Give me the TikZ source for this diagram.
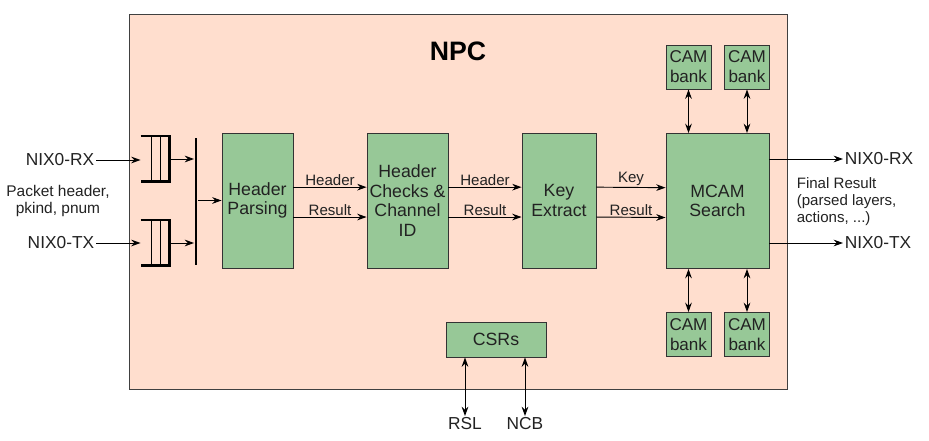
\documentclass[tikz,border=0pt]{standalone}
\usepackage{fontspec}
\setmainfont{Liberation Sans}
\usepackage{xcolor}
\usetikzlibrary{arrows.meta,positioning,calc}

\definecolor{npcbg}{HTML}{FFDECE}
\definecolor{blockgreen}{HTML}{97C897}
\definecolor{inktext}{HTML}{222222}

\begin{document}
\begin{tikzpicture}[
  x=0.75pt, y=-0.75pt,
  block/.style={draw=black!80, fill=blockgreen, align=center, inner sep=1pt, text=inktext,
    minimum height=101.25pt, font=\fontsize{13.3}{14.7}\selectfont},
  cambank/.style={block, minimum width=33.75pt, minimum height=33pt, font=\fontsize{12.8}{15}\selectfont},
  fifo/.style={minimum width=21pt, minimum height=33.75pt, inner sep=0pt},
  lbl/.style={inner sep=1pt, text=inktext, font=\fontsize{13}{14}\selectfont},
  small/.style={inner sep=1pt, text=inktext, font=\fontsize{11.3}{12.7}\selectfont},
  ->, >={Stealth[length=7pt, width=5pt]}, line width=0.7pt
]
\useasboundingbox (0,0) rectangle (929,441);

% NPC enclosure
\node [draw=black!75, fill=npcbg, minimum width=493.5pt, minimum height=281.25pt] (npc) at (458,201.5) {};
\node [font=\bfseries\fontsize{20}{23}\selectfont] (title) at (458,51) {NPC};

% input queues and bus
\node [fifo] (rxq) at (155,159) {};
\node [fifo] (txq) at (155,243) {};
\node [fill=black, minimum width=2.2pt, minimum height=95pt, inner sep=0pt] (bus) at (196,201.5) {};
\foreach \q in {rxq,txq} {
  \draw [-, line width=2.2pt] (\q.north west) -- (\q.north east) -- (\q.south east) -- (\q.south west);
  \draw [-, line width=0.6pt] ($(\q.north west)!0.36!(\q.north east)$) -- ($(\q.south west)!0.36!(\q.south east)$);
  \draw [-, line width=0.6pt] ($(\q.north west)!0.68!(\q.north east)$) -- ($(\q.south west)!0.68!(\q.south east)$);
}

% pipeline blocks
\node [block, minimum width=53.25pt] (parse) at (257.5,200.5) {Header\\Parsing};
\node [block, minimum width=60.75pt] (check) at (407.5,200.5) {Header\\Checks \&\\Channel\\ID};
\node [block, minimum width=55.5pt] (keyx) at (559,200.5) {Key\\Extract};
\node [block, minimum width=77.25pt] (mcam) at (717.5,201) {MCAM\\Search};

\node [cambank] (camtl) at (688.5,67) {CAM\\bank};
\node [cambank] (camtr) at (747,67) {CAM\\bank};
\node [cambank] (cambl) at (688.5,334.5) {CAM\\bank};
\node [cambank] (cambr) at (747,334.5) {CAM\\bank};

\node [block, minimum width=75pt, minimum height=26.25pt] (csr) at (496,339.5) {CSRs};

% outside labels
\node [lbl, anchor=east] (rxin) at (96,160) {NIX0-RX};
\node [lbl, anchor=east] (txin) at (96,243) {NIX0-TX};
\node [small, align=center, font=\fontsize{11.6}{13}\selectfont] (pkt) at (58,201) {Packet header,\\pkind, pnum};
\node [lbl, anchor=west] (rxout) at (843,159) {NIX0-RX};
\node [lbl, anchor=west] (txout) at (843,243) {NIX0-TX};
\node [small, anchor=west, align=left] (fres) at (795,202) {Final Result\\(parsed layers,\\actions, ...)};
\node [lbl] (rsl) at (465,424) {RSL};
\node [lbl] (ncb) at (525,424) {NCB};

% connectors
\draw (rxin) -- (rxq.west |- rxin);
\draw (txin) -- (txq.west |- txin);
\draw (rxq.east) -- (bus.west |- rxq.east);
\draw (txq.east) -- (bus.west |- txq.east);
\draw (bus.east |- parse.west) -- (parse.west);

\path ([yshift=10pt]parse.east) edge node [small, above] {Header} ([yshift=10pt]check.west);
\path ([yshift=-12.4pt]parse.east) edge node [small, above] {Result} ([yshift=-12.4pt]check.west);
\path ([yshift=10pt]check.east) edge node [small, above] {Header} ([yshift=10pt]keyx.west);
\path ([yshift=-12.4pt]check.east) edge node [small, above] {Result} ([yshift=-12.4pt]keyx.west);
\path ([yshift=10pt]keyx.east) edge node [small, above] {Key} ([yshift=10pt]mcam.west);
\path ([yshift=-12.4pt]keyx.east) edge node [small, above] {Result} ([yshift=-12.4pt]mcam.west);

\draw (mcam.east |- rxout) -- (rxout.west);
\draw (mcam.east |- txout) -- (txout.west);

\draw [<->] (camtl) -- (camtl |- mcam.north);
\draw [<->] (camtr) -- (camtr |- mcam.north);
\draw [<->] (cambl) -- (cambl |- mcam.south);
\draw [<->] (cambr) -- (cambr |- mcam.south);

\draw [<->] (rsl.north |- csr.south) -- (rsl.north);
\draw [<->] (ncb.north |- csr.south) -- (ncb.north);
\end{tikzpicture}
\end{document}
